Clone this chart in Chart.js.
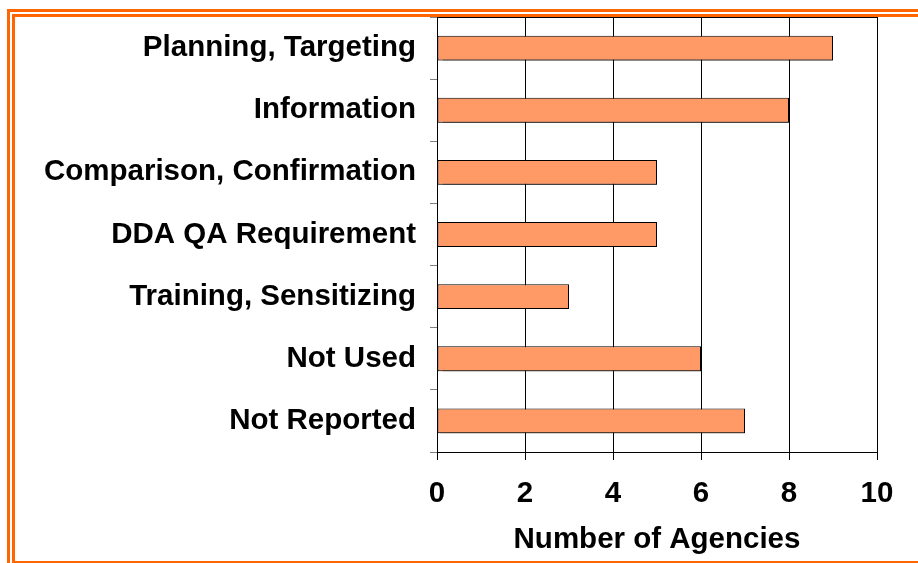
<!DOCTYPE html>
<html>
<head>
<meta charset="utf-8">
<script src="https://cdn.jsdelivr.net/npm/chart.js@4/dist/chart.umd.min.js"></script>
<style>
  html, body { margin: 0; padding: 0; background: #fff; }
  body { width: 918px; height: 563px; position: relative; overflow: hidden; }
  #b1 { position: absolute; left: 7px; top: 9px; width: 1000px; height: 1000px; border-top: 3px solid #FF6600; border-left: 3px solid #FF6600; box-sizing: border-box; }
  #b2 { position: absolute; left: 12px; top: 14px; width: 1000px; height: 1000px; border-top: 3px solid #FF6600; border-left: 3px solid #FF6600; box-sizing: border-box; }
  #b3 { position: absolute; left: 15px; top: 561px; width: 903px; height: 2px; background: #FF6600; }
  #wrap { position: absolute; left: 0; top: 0; width: 918px; height: 563px; }
</style>
</head>
<body>
<div id="b1"></div>
<div id="b2"></div>
<div id="b3"></div>
<div id="wrap"><canvas id="c" width="918" height="563"></canvas></div>
<script>
const categories = ["Planning, Targeting", "Information", "Comparison, Confirmation", "DDA QA Requirement", "Training, Sensitizing", "Not Used", "Not Reported"];
const agencies = [9, 8, 5, 5, 3, 6, 7];
const xTicks = [0, 2, 4, 6, 8, 10];
const xTitle = "Number of Agencies";

const FONT = "'Liberation Sans', Arial, Helvetica, sans-serif";

const shadowPlugin = {
  id: 'barShadow',
  beforeDatasetsDraw(chart) {
    const ctx = chart.ctx;
    ctx.save();
    ctx.shadowColor = 'rgba(0,0,0,0.55)';
    ctx.shadowOffsetX = 2;
    ctx.shadowOffsetY = 2;
    ctx.shadowBlur = 1;
  },
  afterDatasetsDraw(chart) {
    chart.ctx.restore();
  }
};

const framePlugin = {
  id: 'frame',
  afterDraw(chart) {
    const a = chart.chartArea, ctx = chart.ctx;
    ctx.save();
    ctx.strokeStyle = '#000';
    ctx.lineWidth = 1;
    ctx.beginPath();
    ctx.moveTo(a.left, a.top + 0.5);
    ctx.lineTo(a.right, a.top + 0.5);
    ctx.stroke();
    ctx.restore();
  }
};

new Chart(document.getElementById('c'), {
  type: 'bar',
  data: {
    labels: categories,
    datasets: [{
      data: agencies,
      backgroundColor: '#FF9966',
      borderColor: '#000',
      borderWidth: 1,
      borderSkipped: false,
      categoryPercentage: 1.0,
      barPercentage: 0.4
    }]
  },
  plugins: [shadowPlugin, framePlugin],
  options: {
    indexAxis: 'y',
    responsive: false,
    animation: false,
    layout: { padding: { top: 17, right: 41, left: 0, bottom: 0 } },
    plugins: { legend: { display: false }, tooltip: { enabled: false } },
    scales: {
      x: {
        min: 0, max: 10,
        afterBuildTicks(scale) { scale.ticks = xTicks.map(v => ({ value: v })); },
        afterFit(scale) { scale.height = 563 - 452; scale.paddingLeft = 0; scale.paddingRight = 0; },
        grid: { color: '#000', lineWidth: 1, tickLength: 8, tickColor: '#000', drawOnChartArea: true },
        border: { color: '#000', width: 1 },
        ticks: { color: '#000', font: { family: FONT, size: 29.5, weight: 'bold' }, padding: 16, maxRotation: 0 },
        title: { display: true, text: xTitle, color: '#000', font: { family: FONT, size: 29.5, weight: 'bold' }, padding: { top: 10, bottom: 5 } }
      },
      y: {
        afterFit(scale) { scale.width = 437; scale.paddingTop = 0; scale.paddingBottom = 0; },
        grid: { offset: true, drawOnChartArea: false, tickLength: 7, tickColor: '#808080', color: '#808080' },
        border: { color: '#000', width: 1 },
        ticks: { color: '#000', font: { family: FONT, size: 29.5, weight: 'bold' }, padding: 14, autoSkip: false }
      }
    }
  }
});
</script>
</body>
</html>
